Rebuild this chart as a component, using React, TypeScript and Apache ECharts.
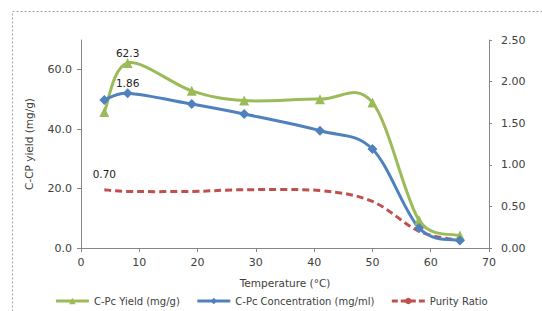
import React, { useEffect, useRef } from "react";
import * as echarts from "echarts";

const temperatures = [4, 8, 19, 28, 41, 50, 58, 65];
const yieldValues = [45.8, 62.3, 52.9, 49.6, 50.1, 49.0, 9.3, 4.2];
const concValues = [1.78, 1.86, 1.73, 1.61, 1.41, 1.19, 0.24, 0.09];
const purityValues = [0.7, 0.68, 0.68, 0.7, 0.69, 0.56, 0.2, 0.09];
const leftTicks = [0, 20, 40, 60];
const seriesNames = ["C-Pc Yield (mg/g)", "C-Pc Concentration (mg/ml)", "Purity Ratio"];

const FONT = "DejaVu Sans";
const TEXT = "#404040";
const AXIS = "#868686";
const GREEN = "#9BBB59";
const BLUE = "#4F81BD";
const RED = "#C0504D";

function toPairs(vals: number[]) {
  return temperatures.map((t, i) => [t, vals[i]]);
}

function dist(a: number[], b: number[]) {
  return Math.hypot(a[0] - b[0], a[1] - b[1]);
}

// Excel-like smoothing (Catmull-Rom, control points limited to half a segment)
function smoothPath(pts: number[][]) {
  let d = `M${pts[0][0]},${pts[0][1]}`;
  for (let i = 0; i < pts.length - 1; i++) {
    const p0 = pts[i - 1] || pts[i];
    const p1 = pts[i];
    const p2 = pts[i + 1];
    const p3 = pts[i + 2] || pts[i + 1];
    const d12 = dist(p1, p2);
    const d02 = dist(p0, p2) || 1;
    const d13 = dist(p1, p3) || 1;
    const f0 = Math.min(1 / 6, d12 / (2 * d02));
    const f1 = Math.min(1 / 6, d12 / (2 * d13));
    const c1x = p1[0] + (p2[0] - p0[0]) * f0;
    const c1y = p1[1] + (p2[1] - p0[1]) * f0;
    const c2x = p2[0] - (p3[0] - p1[0]) * f1;
    const c2y = p2[1] - (p3[1] - p1[1]) * f1;
    d += ` C${c1x},${c1y} ${c2x},${c2y} ${p2[0]},${p2[1]}`;
  }
  return d;
}

function curveSeries(
  name: string,
  vals: number[],
  yAxisIndex: number,
  color: string,
  dash: number[] | null,
  z: number,
  label?: { index: number; digits: number; dy: number }
) {
  return {
    name,
    type: "custom",
    yAxisIndex,
    z,
    silent: true,
    data: toPairs(vals),
    renderItem: (params: any, api: any) => {
      if (params.dataIndex !== 0) return null;
      const pts = temperatures.map((t, i) => api.coord([t, vals[i]]));
      const children: any[] = [
        {
          type: "path",
          shape: { pathData: smoothPath(pts) },
          style: {
            fill: "none",
            stroke: color,
            lineWidth: 3,
            lineDash: dash || undefined,
            lineCap: "butt",
            lineJoin: "round",
          },
        },
      ];
      if (label) {
        const p = pts[label.index];
        children.push({
          type: "text",
          x: p[0],
          y: p[1] - label.dy,
          style: {
            text: vals[label.index].toFixed(label.digits),
            fill: "#222",
            fontFamily: FONT,
            fontSize: 10.5,
            align: "center",
            verticalAlign: "middle",
          },
        });
      }
      return { type: "group", children };
    },
  };
}

function markerData(vals: number[], labelAt: number, digits: number, distance: number) {
  return temperatures.map((t, i) =>
    i === labelAt
      ? {
          value: [t, vals[i]],
          label: {
            show: true,
            position: "top",
            distance,
            formatter: () => vals[i].toFixed(digits),
            color: "#222",
            fontFamily: FONT,
            fontSize: 10.5,
          },
        }
      : { value: [t, vals[i]] }
  );
}

export default function App() {
  const ref = useRef<HTMLDivElement>(null);
  useEffect(() => {
    if (!ref.current) return;
    const chart = echarts.init(ref.current, null, { renderer: "svg" });
    chart.setOption({
      animation: false,
      backgroundColor: "#ffffff",
      textStyle: { fontFamily: FONT },
      graphic: [
        {
          type: "rect",
          shape: { x: 12.5, y: 11.5, width: 600, height: 400 },
          style: { fill: "none", stroke: "#a6a6a6", lineWidth: 1, lineDash: [2, 2] },
          silent: true,
        },
      ],
      grid: { left: 81, right: 53, top: 40, bottom: 63, containLabel: false },
      xAxis: {
        type: "value",
        min: 0,
        max: 70,
        interval: 10,
        name: "Temperature (°C)",
        nameLocation: "middle",
        nameGap: 29,
        nameTextStyle: { color: TEXT, fontFamily: FONT, fontSize: 10.5 },
        axisLine: { show: true, lineStyle: { color: AXIS, width: 1 } },
        axisTick: { show: true, length: 4, lineStyle: { color: AXIS } },
        axisLabel: { color: TEXT, fontFamily: FONT, fontSize: 11, margin: 9 },
        splitLine: { show: false },
      },
      yAxis: [
        {
          type: "value",
          min: 0,
          max: 70,
          interval: 20,
          name: "C-CP yield (mg/g)",
          nameLocation: "middle",
          nameGap: 47,
          nameTextStyle: { color: TEXT, fontFamily: FONT, fontSize: 10.5 },
          axisLine: { show: true, lineStyle: { color: AXIS, width: 1 } },
          axisTick: { show: true, length: 4, lineStyle: { color: AXIS }, customValues: leftTicks },
          axisLabel: {
            color: TEXT,
            fontFamily: FONT,
            fontSize: 11,
            margin: 9,
            customValues: leftTicks,
            formatter: (v: number) => v.toFixed(1),
          },
          splitLine: { show: false },
        },
        {
          type: "value",
          min: 0,
          max: 2.5,
          interval: 0.5,
          position: "right",
          axisLine: { show: true, lineStyle: { color: AXIS, width: 1 } },
          axisTick: { show: true, length: 3, lineStyle: { color: AXIS } },
          axisLabel: {
            color: TEXT,
            fontFamily: FONT,
            fontSize: 11,
            margin: 12,
            formatter: (v: number) => v.toFixed(2),
          },
          splitLine: { show: false },
        },
      ],
      legend: {
        bottom: 0,
        left: "center",
        itemWidth: 33,
        itemHeight: 8,
        itemGap: 16,
        textStyle: { color: TEXT, fontFamily: FONT, fontSize: 10 },
        data: [
          { name: seriesNames[0], lineStyle: { opacity: 1, width: 3, color: GREEN } },
          { name: seriesNames[1], lineStyle: { opacity: 1, width: 3, color: BLUE } },
          { name: seriesNames[2], lineStyle: { opacity: 1, width: 3, color: RED, type: [6, 3] } },
        ],
      },
      series: [
        curveSeries("_purityCurve", purityValues, 1, RED, [7, 4], 2, { index: 0, digits: 2, dy: 16 }),
        curveSeries("_yieldCurve", yieldValues, 0, GREEN, null, 3),
        curveSeries("_concCurve", concValues, 1, BLUE, null, 4),
        {
          name: seriesNames[0],
          type: "line",
          yAxisIndex: 0,
          data: markerData(yieldValues, 1, 1, -1),
          symbol: "triangle",
          symbolSize: 10,
          lineStyle: { color: GREEN, width: 3, opacity: 0 },
          itemStyle: { color: GREEN },
          z: 5,
        },
        {
          name: seriesNames[1],
          type: "line",
          yAxisIndex: 1,
          data: markerData(concValues, 1, 2, 0),
          symbol: "diamond",
          symbolSize: 10,
          lineStyle: { color: BLUE, width: 3, opacity: 0 },
          itemStyle: { color: BLUE },
          z: 6,
        },
        {
          name: seriesNames[2],
          type: "line",
          yAxisIndex: 1,
          data: toPairs(purityValues),
          symbol: "none",
          showSymbol: false,
          lineStyle: { color: RED, width: 3, type: [7, 4], opacity: 0 },
          itemStyle: { color: RED },
          z: 2,
        },
      ],
    });
    return () => chart.dispose();
  }, []);
  return (
    <div
      ref={ref}
      style={{ position: "absolute", left: 0, top: 0, width: 542, height: 311 }}
    />
  );
}
